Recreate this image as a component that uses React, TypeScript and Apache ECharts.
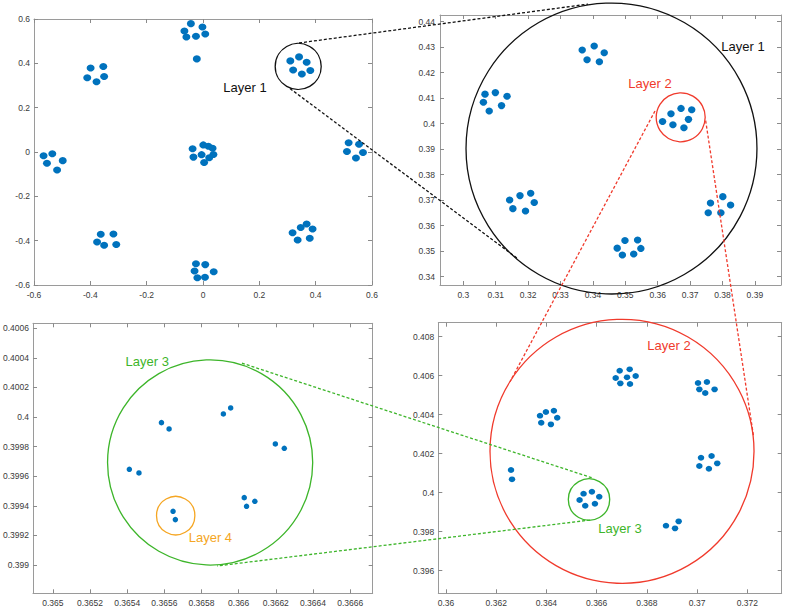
import React, { useEffect, useRef } from "react";
import * as echarts from "echarts";

// ---------- data ----------
// Panel 1: whole structure
const panel1Points: number[][] = [
  [-0.043, 0.579], [-0.002, 0.564], [-0.066, 0.546], [-0.025, 0.522], [-0.059, 0.519], [0.008, 0.532],
  [-0.022, 0.42],
  [-0.399, 0.379], [-0.354, 0.386], [-0.411, 0.335], [-0.378, 0.317], [-0.351, 0.341],
  [0.31, 0.411], [0.341, 0.429], [0.368, 0.405], [0.32, 0.37], [0.351, 0.352], [0.381, 0.368],
  [-0.566, -0.017], [-0.535, -0.008], [-0.554, -0.051], [-0.498, -0.039], [-0.518, -0.081],
  [-0.037, 0.015], [0.001, 0.032], [0.019, 0.026], [0.034, 0.017], [-0.005, -0.012], [0.037, -0.011],
  [-0.034, -0.023], [0.004, -0.047], [0.022, -0.026],
  [0.517, 0.042], [0.554, 0.035], [0.511, 0.002], [0.543, -0.027], [0.568, -0.002],
  [-0.363, -0.371], [-0.318, -0.37], [-0.376, -0.406], [-0.351, -0.421], [-0.308, -0.417],
  [0.318, -0.364], [0.347, -0.341], [0.368, -0.325], [0.389, -0.347], [0.336, -0.397], [0.379, -0.389],
  [-0.025, -0.504], [0.008, -0.508], [-0.03, -0.537], [0.038, -0.54], [-0.02, -0.567], [0.007, -0.565],
];

// Panel 2: Layer 1 zoom
const panel2Points: number[][] = [
  [0.3367, 0.4289], [0.3404, 0.4305], [0.3435, 0.4278], [0.3382, 0.4251], [0.342, 0.4243],
  [0.3067, 0.4116], [0.3099, 0.4122], [0.3135, 0.4108], [0.3062, 0.4084], [0.308, 0.405], [0.3118, 0.4071],
  [0.3641, 0.4039], [0.3672, 0.406], [0.3705, 0.4055], [0.3615, 0.4009], [0.3647, 0.3996], [0.3695, 0.4017], [0.3681, 0.3984],
  [0.3143, 0.3701], [0.3175, 0.3718], [0.3208, 0.3727], [0.3219, 0.3691], [0.3153, 0.3667], [0.3192, 0.3658],
  [0.3475, 0.3512], [0.3499, 0.3542], [0.3538, 0.3544], [0.3548, 0.3511], [0.3491, 0.3485], [0.3526, 0.3489],
  [0.3763, 0.3689], [0.3801, 0.3714], [0.3825, 0.3681], [0.3756, 0.3651], [0.3795, 0.3651],
];

// Panel 3: Layer 3 zoom
const panel3Points: number[][] = [
  [0.3654116, 0.3996468], [0.3654633, 0.399622],
  [0.3655844, 0.3999622], [0.3656254, 0.3999194],
  [0.3659176, 0.4000208], [0.3659568, 0.4000614],
  [0.3661973, 0.399818], [0.3662454, 0.3997887],
  [0.3660299, 0.3994552], [0.3660869, 0.3994304], [0.3660423, 0.3993966],
  [0.3656468, 0.3993628], [0.3656592, 0.3993065],
];

// Panel 4: Layer 2 zoom
const panel4Points: number[][] = [
  [0.366757, 0.40588], [0.366916, 0.406256], [0.367314, 0.406325], [0.367553, 0.405983], [0.366942, 0.405607], [0.367208, 0.405915], [0.367327, 0.405573],
  [0.370035, 0.405624], [0.370088, 0.405299], [0.37039, 0.405675], [0.370323, 0.405111], [0.370695, 0.405299],
  [0.363743, 0.403949], [0.363978, 0.404137], [0.364296, 0.404205], [0.364429, 0.403846], [0.363792, 0.40359], [0.364177, 0.403504],
  [0.370155, 0.401795], [0.370576, 0.40188], [0.370088, 0.401368], [0.370469, 0.401231], [0.370801, 0.401504],
  [0.362589, 0.401162], [0.362628, 0.400684],
  [0.365478, 0.399949], [0.36581, 0.400051], [0.366102, 0.399795], [0.365319, 0.399624], [0.365544, 0.399333], [0.36593, 0.399436],
  [0.36876, 0.398308], [0.36912, 0.398171], [0.369265, 0.39853],
];

// Axis ranges
const panel1XRange = [-0.6, 0.6];
const panel1YRange = [-0.6, 0.6];
const panel2XRange = [0.29281, 0.39806];
const panel2YRange = [0.33675, 0.44263];
const panel3XRange = [0.3648931, 0.3667212];
const panel3YRange = [0.3988084, 0.4006338];
const panel4XRange = [0.359693, 0.373368];
const panel4YRange = [0.394841, 0.408718];

// Tick labels
const panel1XTicks = [-0.6, -0.4, -0.2, 0, 0.2, 0.4, 0.6];
const panel1YTicks = [-0.6, -0.4, -0.2, 0, 0.2, 0.4, 0.6];
const panel2XTicks = [0.3, 0.31, 0.32, 0.33, 0.34, 0.35, 0.36, 0.37, 0.38, 0.39];
const panel2YTicks = [0.34, 0.35, 0.36, 0.37, 0.38, 0.39, 0.4, 0.41, 0.42, 0.43, 0.44];
const panel3XTicks = [0.365, 0.3652, 0.3654, 0.3656, 0.3658, 0.366, 0.3662, 0.3664, 0.3666];
const panel3YTicks = [0.399, 0.3992, 0.3994, 0.3996, 0.3998, 0.4, 0.4002, 0.4004, 0.4006];
const panel4XTicks = [0.36, 0.362, 0.364, 0.366, 0.368, 0.37, 0.372];
const panel4YTicks = [0.396, 0.398, 0.4, 0.402, 0.404, 0.406, 0.408];

// Zoom circles: [panel, cx, cy, radius (x data units)]
const circlePanels = [0, 1, 1, 3, 3, 2, 2];
const circleCenters: number[][] = [
  [0.338, 0.386],
  [0.34574, 0.39027],
  [0.3671, 0.4025],
  [0.367009, 0.40212],
  [0.365695, 0.39965],
  [0.3658463, 0.399693],
  [0.365661, 0.3993335],
];
const circleRadii = [0.0817, 0.0449, 0.00756, 0.005257, 0.000824, 0.000552, 0.0001032];
const circleColorKeys = ["black", "black", "red", "red", "green", "green", "orange"];

// Connector lines: from [panel, x, y] to [panel, x, y]
const connectorFrom: number[][] = [
  [0, 0.341, 0.492], [0, 0.309, 0.286],
  [1, 0.35917, 0.40498], [1, 0.37481, 0.40118],
  [3, 0.365801, 0.400769], [3, 0.365735, 0.398598],
];
const connectorTo: number[][] = [
  [1, 0.3385, 0.4469], [1, 0.3166, 0.3473],
  [3, 0.362549, 0.405692], [3, 0.372239, 0.402957],
  [2, 0.3660085, 0.4003679], [2, 0.3658837, 0.3989932],
];
const connectorColorKeys = ["black", "black", "red", "red", "green", "green"];

// Labels
const labelTexts = ["Layer 1", "Layer 1", "Layer 2", "Layer 2", "Layer 3", "Layer 3", "Layer 4"];
const labelPanels = [0, 1, 1, 3, 3, 2, 2];
const labelPositions: number[][] = [
  [0.149, 0.293],
  [0.38633, 0.43047],
  [0.35762, 0.41596],
  [0.36888, 0.407574],
  [0.366929, 0.398154],
  [0.3655078, 0.4003789],
  [0.3658478, 0.3991843],
];
const labelColorKeys = ["black", "black", "red", "red", "green", "green", "orange"];

const COLORS: Record<string, string> = {
  black: "#111111",
  red: "#F03A2C",
  green: "#3DB52A",
  orange: "#F5A623",
};
const DOT = "#0072BD";
const FONT = "'Liberation Sans', Arial, Helvetica, sans-serif";

// ---------- layout ----------
const GRIDS = [
  { left: 34, top: 19, width: 338, height: 266 },
  { left: 440, top: 15, width: 341, height: 270 },
  { left: 30.7, top: 323.3, width: 342, height: 270 },
  { left: 438.3, top: 322.7, width: 343.4, height: 270.6 },
];
const LABEL_MARGIN_Y = [4, 5, 4, 4];
const SYMBOL_SIZES = [[8, 7], [7.5, 7], [5.5, 5.5], [6.5, 5.8]];

const fmt = (v: number) => String(parseFloat(v.toFixed(6)));

function makeAxes(g: number, range: number[], ticks: number[], isX: boolean, margin: number) {
  const common = (labels: boolean, position: string) => ({
    type: "value",
    gridIndex: g,
    position,
    min: range[0],
    max: range[1],
    scale: true,
    splitLine: { show: false },
    axisLine: { show: true, onZero: false, lineStyle: { color: "#9a9a9a", width: 1 } },
    axisTick: {
      show: true,
      inside: true,
      length: 4,
      lineStyle: { color: "#8a8a8a", width: 1 },
      customValues: ticks,
    },
    axisLabel: {
      show: labels,
      customValues: ticks,
      formatter: (v: number) => fmt(v),
      color: "#3a3a3a",
      fontSize: 8.5,
      fontFamily: FONT,
      margin,
      showMinLabel: true,
      showMaxLabel: true,
      hideOverlap: false,
    },
  });
  return isX ? [common(true, "bottom"), common(false, "top")] : [common(true, "left"), common(false, "right")];
}

export default function App() {
  const ref = useRef<HTMLDivElement>(null);

  useEffect(() => {
    if (!ref.current) return;
    const chart = echarts.init(ref.current, undefined, { renderer: "svg" });

    const ranges = [
      [panel1XRange, panel1YRange, panel1XTicks, panel1YTicks],
      [panel2XRange, panel2YRange, panel2XTicks, panel2YTicks],
      [panel3XRange, panel3YRange, panel3XTicks, panel3YTicks],
      [panel4XRange, panel4YRange, panel4XTicks, panel4YTicks],
    ];
    const points = [panel1Points, panel2Points, panel3Points, panel4Points];

    const xAxis: any[] = [];
    const yAxis: any[] = [];
    ranges.forEach((r, g) => {
      xAxis.push(...makeAxes(g, r[0], r[2], true, 5));
      yAxis.push(...makeAxes(g, r[1], r[3], false, LABEL_MARGIN_Y[g]));
    });

    const series = points.map((pts, g) => ({
      type: "scatter",
      xAxisIndex: 2 * g,
      yAxisIndex: 2 * g,
      data: pts,
      symbol: "circle",
      symbolSize: SYMBOL_SIZES[g],
      itemStyle: { color: DOT, opacity: 1 },
      emphasis: { disabled: true },
      silent: true,
      clip: false,
      z: 5,
    }));

    chart.setOption({
      animation: false,
      backgroundColor: "#ffffff",
      grid: GRIDS.map((g) => ({ ...g, containLabel: false, show: false })),
      xAxis,
      yAxis,
      series,
    });

    const toPx = (g: number, x: number, y: number) =>
      chart.convertToPixel({ seriesIndex: g }, [x, y]) as number[];

    const graphics: any[] = [];
    circleCenters.forEach((c, i) => {
      const g = circlePanels[i];
      const p = toPx(g, c[0], c[1]);
      const q = toPx(g, c[0] + circleRadii[i], c[1]);
      graphics.push({
        type: "circle",
        silent: true,
        z: 10,
        shape: { cx: p[0], cy: p[1], r: Math.abs(q[0] - p[0]) },
        style: { fill: "none", stroke: COLORS[circleColorKeys[i]], lineWidth: 1.3 },
      });
    });
    connectorFrom.forEach((f, i) => {
      const t = connectorTo[i];
      const a = toPx(f[0], f[1], f[2]);
      const b = toPx(t[0], t[1], t[2]);
      graphics.push({
        type: "line",
        silent: true,
        z: 10,
        shape: { x1: a[0], y1: a[1], x2: b[0], y2: b[1] },
        style: { stroke: COLORS[connectorColorKeys[i]], lineWidth: 1.3, lineDash: [3, 2] },
      });
    });
    labelTexts.forEach((txt, i) => {
      const p = toPx(labelPanels[i], labelPositions[i][0], labelPositions[i][1]);
      graphics.push({
        type: "text",
        silent: true,
        z: 11,
        x: p[0],
        y: p[1],
        style: {
          text: txt,
          fill: COLORS[labelColorKeys[i]],
          fontSize: 13,
          fontFamily: FONT,
          textAlign: "center",
          textVerticalAlign: "middle",
          align: "center",
          verticalAlign: "middle",
        },
      });
    });

    chart.setOption({ graphic: { elements: graphics } });

    return () => chart.dispose();
  }, []);

  return (
    <div
      ref={ref}
      style={{ position: "absolute", left: 0, top: 0, width: 789, height: 608, background: "#fff" }}
    />
  );
}
